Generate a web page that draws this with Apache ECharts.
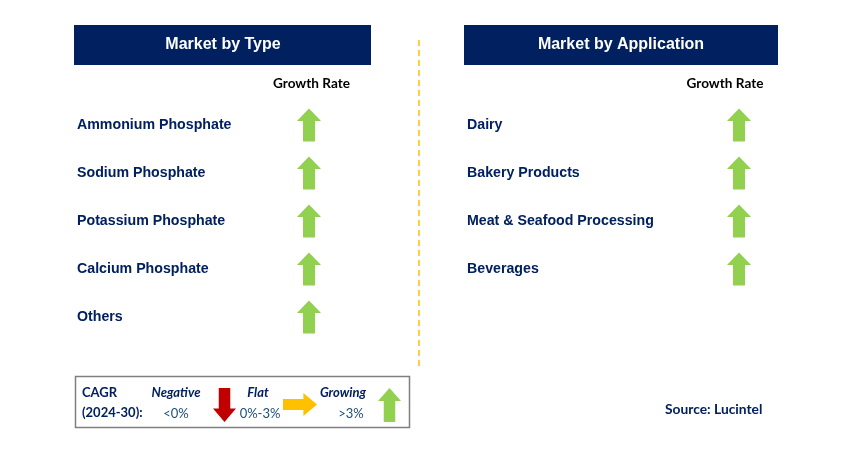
<!DOCTYPE html>
<html>
<head>
<meta charset="utf-8">
<script src="https://cdn.jsdelivr.net/npm/echarts@6/dist/echarts.min.js"></script>
<style>html,body{margin:0;padding:0;background:#fff;}#c{width:842px;height:474px;}</style>
</head>
<body>
<div id="c"></div>
<script>
// ---- data ----
const panelTitles = ['Market by Type', 'Market by Application'];
const columnLabel = ['Growth Rate'];
const typeCategories = ['Ammonium Phosphate', 'Sodium Phosphate', 'Potassium Phosphate', 'Calcium Phosphate', 'Others'];
const typeTrend = ['Growing', 'Growing', 'Growing', 'Growing', 'Growing'];
const applicationCategories = ['Dairy', 'Bakery Products', 'Meat & Seafood Processing', 'Beverages'];
const applicationTrend = ['Growing', 'Growing', 'Growing', 'Growing'];
const legendLevels = ['Negative', 'Flat', 'Growing'];
const legendRanges = ['<0%', '0%-3%', '>3%'];
const cagrLabel = ['CAGR', '(2024-30):'];
const sourceText = 'Source: Lucintel';

// ---- styles ----
const NAVY = '#002060';
// arrow outlines in a unit box (0..1)
const arrowPts = {
  Growing: [[0.25,1],[0.25,0.38],[0,0.38],[0.5,0],[1,0.38],[0.75,0.38],[0.75,1]],
  Negative: [[0.25,0],[0.75,0],[0.75,0.6],[1,0.6],[0.5,1],[0,0.6],[0.25,0.6]],
  Flat: [[0,0.26],[0.6,0.26],[0.6,0],[1,0.5],[0.6,1],[0.6,0.74],[0,0.74]]
};
function toPath(pts, w, h) {
  return 'path://' + pts.map((p, i) => (i ? 'L' : 'M') + (p[0] * w) + ',' + (p[1] * h)).join(' ') + ' Z';
}
const trendSymbol = { Growing: toPath(arrowPts.Growing, 24, 33), Negative: toPath(arrowPts.Negative, 24, 33), Flat: toPath(arrowPts.Flat, 34, 23) };
const trendColor = { Growing: '#92D050', Negative: '#C00000', Flat: '#FFC000' };

const chart = echarts.init(document.getElementById('c'), null, { renderer: 'canvas' });

function yAx(gi, cats, margin) {
  return {
    type: 'category', gridIndex: gi, data: cats, inverse: true,
    axisLine: { show: false }, axisTick: { show: false }, splitLine: { show: false },
    axisLabel: { align: 'left', margin: margin, fontSize: 14.2, fontWeight: 'bold', color: NAVY, fontFamily: 'Liberation Sans' }
  };
}
function xAx(gi, pad) {
  return {
    type: 'category', gridIndex: gi, data: columnLabel, position: 'top',
    axisLine: { show: false }, axisTick: { show: false }, splitLine: { show: false },
    axisLabel: { margin: 10, fontSize: 13.6, fontWeight: 'bold', color: '#000', fontFamily: 'Lato', padding: pad }
  };
}
function ser(gi, cats, trend) {
  return {
    type: 'scatter', xAxisIndex: gi, yAxisIndex: gi,
    data: cats.map((c, i) => ({ value: [columnLabel[0], c], symbol: trendSymbol[trend[i]], itemStyle: { color: trendColor[trend[i]], opacity: 1 } })),
    symbolSize: [24, 33], silent: true, itemStyle: { opacity: 1 }
  };
}

function legendText(x, y, t, style) {
  return { type: 'text', x: x, y: y, style: Object.assign({ text: t, align: 'center', verticalAlign: 'middle', fontFamily: 'Lato', fontSize: 13 }, style) };
}
function arrow(key, x, y, w, h) {
  return { type: 'polygon', shape: { points: arrowPts[key].map(p => [x + p[0] * w, y + p[1] * h]) }, style: { fill: trendColor[key] } };
}

const legendX = [176, 258, 343];
const rangeX = [176, 260, 351];
const graphics = [
  { type: 'rect', shape: { x: 74, y: 25, width: 297, height: 40 }, style: { fill: NAVY } },
  { type: 'text', x: 223, y: 45, style: { text: panelTitles[0], fill: '#fff', fontSize: 16, fontWeight: 'bold', fontFamily: 'Liberation Sans', align: 'center', verticalAlign: 'middle' } },
  { type: 'rect', shape: { x: 464, y: 25, width: 314, height: 40 }, style: { fill: NAVY } },
  { type: 'text', x: 621, y: 45, style: { text: panelTitles[1], fill: '#fff', fontSize: 16, fontWeight: 'bold', fontFamily: 'Liberation Sans', align: 'center', verticalAlign: 'middle' } },
  { type: 'line', shape: { x1: 419, y1: 40, x2: 419, y2: 366 }, style: { stroke: '#FFC000', lineWidth: 1.5, lineDash: [6, 4] } },
  { type: 'rect', shape: { x: 75.5, y: 376.5, width: 334, height: 51 }, style: { fill: 'none', stroke: '#7F7F7F', lineWidth: 1.5 } },
  { type: 'text', x: 82, y: 393, style: { text: cagrLabel[0], fill: NAVY, fontFamily: 'Lato', fontSize: 13, fontWeight: 'bold', verticalAlign: 'middle' } },
  { type: 'text', x: 82, y: 413, style: { text: cagrLabel[1], fill: NAVY, fontFamily: 'Lato', fontSize: 13, fontWeight: 'bold', verticalAlign: 'middle' } },
  arrow('Negative', 213, 388, 23, 34),
  arrow('Flat', 283, 393, 34, 23),
  arrow('Growing', 378, 388, 23, 34),
  { type: 'text', x: 665, y: 410, style: { text: sourceText, fill: NAVY, fontFamily: 'Lato', fontSize: 13.8, fontWeight: 'bold', verticalAlign: 'middle' } }
];
legendLevels.forEach((l, i) => {
  graphics.push(legendText(legendX[i], 393, l, { fill: NAVY, fontWeight: 'bold', fontStyle: 'italic' }));
  graphics.push(legendText(rangeX[i], 414, legendRanges[i], { fill: '#1F4E79', fontWeight: 'normal' }));
});

chart.setOption({
  animation: false,
  backgroundColor: '#fff',
  grid: [
    { left: 277, width: 64, top: 101, height: 240 },
    { left: 707, width: 64, top: 101, height: 192 }
  ],
  xAxis: [xAx(0, [0, 0, 0, 5]), xAx(1, [0, 28, 0, 0])],
  yAxis: [yAx(0, typeCategories, 200), yAx(1, applicationCategories, 240)],
  series: [ser(0, typeCategories, typeTrend), ser(1, applicationCategories, applicationTrend)],
  graphic: graphics
});
</script>
</body>
</html>
